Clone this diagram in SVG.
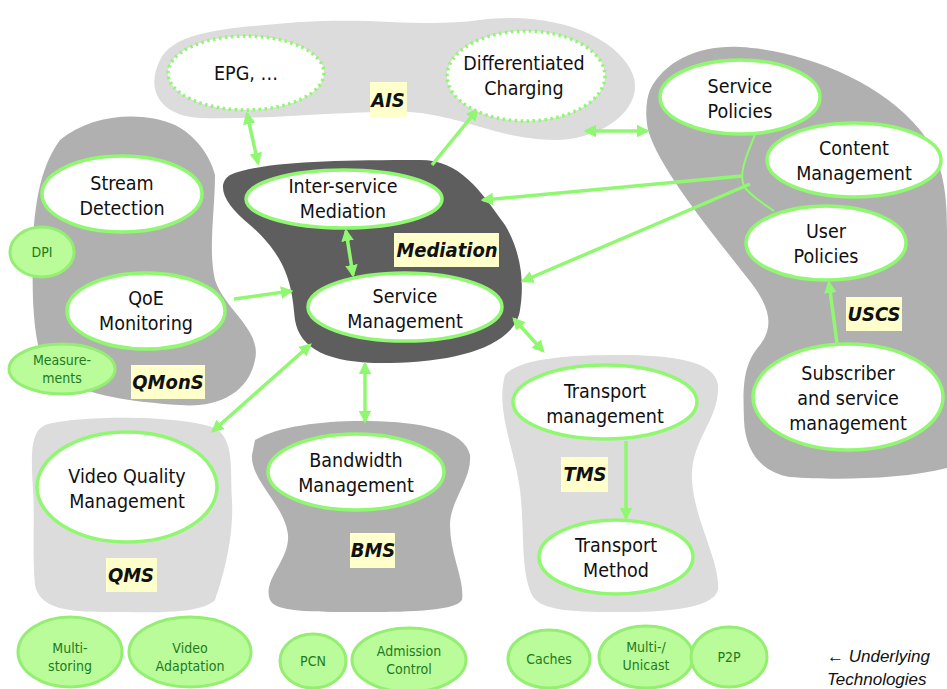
<svg xmlns="http://www.w3.org/2000/svg" width="947" height="689" viewBox="0 0 947 689">
  <style>
    .t { font-family: "DejaVu Sans Condensed", "DejaVu Sans", sans-serif; font-stretch: condensed; font-size: 19.5px; fill: #111; text-anchor: middle; }
    .tech { font-family: "DejaVu Sans Condensed", "DejaVu Sans", sans-serif; font-stretch: condensed; font-size: 14px; fill: #1f7a1f; text-anchor: middle; }
    .lbl { font-family: "DejaVu Sans Condensed", "DejaVu Sans", sans-serif; font-stretch: condensed; font-size: 20px; font-weight: bold; font-style: italic; fill: #111; text-anchor: middle; }
    .box { fill: #ffffcc; }
    .node { fill: #fff; stroke: #90f870; stroke-width: 3.5; }
    .dot { fill: #fff; stroke: #90f870; stroke-width: 3.5; stroke-dasharray: 2.5 3.5; }
    .techn { fill: #b9fc99; stroke: #94ee72; stroke-width: 3; }
    .light { fill: #dcdcdc; }
    .mid { fill: #b0b0b0; }
    .dark { fill: #5e5e5e; }
    .c { fill: none; stroke: #90f870; stroke-width: 3.5; }
    .thin { fill: none; stroke: #90f870; stroke-width: 2; }
    .note { font-family: "Liberation Sans", Arial, sans-serif; font-style: italic; font-size: 17px; fill: #111; }
  </style>
  <defs>
    <marker id="ah" viewBox="0 0 10 10" refX="8" refY="5" markerWidth="3.6" markerHeight="3.6" orient="auto-start-reverse">
      <path d="M0,0 L10,5 L0,10 Z" fill="#90f870"/>
    </marker>
  </defs>

  <rect width="947" height="689" fill="#fff"/>

  <!-- subsystem areas -->
  <g id="areas">
    <path id="area-ais" class="light" d="M160,60 C175,30 230,28 300,22 C380,17 420,28 480,20 C560,10 620,40 633,75 C645,110 600,140 555,140 C500,140 460,115 410,112 C350,110 270,120 200,118 C160,116 145,90 160,60 Z"/>
    <path id="area-uscs" class="mid" d="M650,90 C665,60 700,45 740,47 C800,50 880,80 920,130 C945,160 947,200 947,230 L947,468 C900,480 830,480 790,477 C760,472 745,450 744,420 C743,390 742,365 760,345 C775,325 770,305 745,275 C710,230 660,170 648,130 C645,115 646,100 650,90 Z"/>
    <path id="area-qmons" class="mid" d="M60,140 C90,115 140,110 175,125 C195,135 210,155 215,175 C215,210 208,250 215,280 C225,310 262,330 255,360 C248,395 215,408 180,405 C130,402 90,395 60,380 C40,370 35,340 33,300 C32,250 30,180 60,140 Z"/>
    <path id="area-mediation" class="dark" d="M230,175 C260,162 330,160 420,160 C460,160 480,190 505,225 C520,250 525,280 520,310 C515,345 460,362 390,363 C330,364 300,350 295,320 C292,290 290,260 250,225 C225,205 215,185 230,175 Z"/>
    <path id="area-qms" class="light" d="M45,425 C80,415 180,415 215,428 C235,440 230,470 232,500 C234,540 222,580 215,600 C200,615 150,612 110,612 C70,612 40,610 35,585 C32,550 35,520 33,490 C31,455 30,432 45,425 Z"/>
    <path id="area-bms" class="mid" d="M255,440 C280,425 330,420 370,421 C420,422 465,430 470,455 C472,480 450,500 450,525 C450,555 465,580 462,600 C455,612 400,612 360,612 C310,612 275,612 270,600 C262,580 290,560 288,535 C285,505 250,480 252,455 Z"/>
    <path id="area-tms" class="light" d="M505,375 C520,358 570,355 620,355 C670,355 715,360 718,385 C720,420 690,440 692,480 C694,520 720,560 718,590 C712,610 660,612 620,612 C580,612 540,612 532,595 C520,570 525,530 520,490 C515,450 495,410 505,375 Z"/>
  </g>

  <!-- connectors -->
  <g id="connectors">
    <path class="c" d="M247,114 L258,163" marker-start="url(#ah)" marker-end="url(#ah)"/>
    <path class="c" d="M432,165 L477,110" marker-end="url(#ah)"/>
    <path class="c" d="M346,231 L353,275" marker-start="url(#ah)" marker-end="url(#ah)"/>
    <path class="c" d="M234,299 L291,291" marker-end="url(#ah)"/>
    <path class="c" d="M310,345 L213,431" marker-start="url(#ah)" marker-end="url(#ah)"/>
    <path class="c" d="M365,364 L365,421" marker-start="url(#ah)" marker-end="url(#ah)"/>
    <path class="c" d="M514,319 L543,351" marker-start="url(#ah)" marker-end="url(#ah)"/>
    <path class="c" d="M586,131 L647,131" marker-start="url(#ah)" marker-end="url(#ah)"/>
    <path class="thin" d="M757,130 C745,158 737,178 746,189 C754,198 764,204 774,211"/>
    <path class="c" d="M742,176 L483,200" marker-end="url(#ah)"/>
    <path class="c" d="M750,184 L523,281" marker-end="url(#ah)"/>
    <path class="c" d="M626,441 L626,518" marker-end="url(#ah)"/>
    <path class="c" d="M837,343 L829,283" marker-end="url(#ah)"/>
  </g>

  <!-- AIS -->
  <g id="n-epg">
    <ellipse class="dot" cx="246" cy="73" rx="78" ry="37"/>
    <text class="t" x="246" y="80">EPG, …</text>
  </g>
  <g id="n-charging">
    <ellipse class="dot" cx="526" cy="76" rx="79" ry="45"/>
    <text class="t" x="524" y="70">Differentiated</text>
    <text class="t" x="524" y="95">Charging</text>
  </g>
  <g id="lbl-ais">
    <rect class="box" x="370" y="82" width="37" height="35"/>
    <text class="lbl" x="388" y="107">AIS</text>
  </g>

  <!-- Mediation -->
  <g id="n-inter-service">
    <ellipse class="node" cx="344" cy="199" rx="98" ry="29"/>
    <text class="t" x="343" y="193">Inter-service</text>
    <text class="t" x="343" y="218">Mediation</text>
  </g>
  <g id="n-service-mgmt">
    <ellipse class="node" cx="405" cy="307" rx="97" ry="34"/>
    <text class="t" x="405" y="303">Service</text>
    <text class="t" x="405" y="328">Management</text>
  </g>
  <g id="lbl-mediation">
    <rect class="box" x="394" y="233" width="105" height="34"/>
    <text class="lbl" x="447" y="257">Mediation</text>
  </g>

  <!-- QMonS -->
  <g id="n-stream">
    <ellipse class="node" cx="122" cy="194" rx="80" ry="38"/>
    <text class="t" x="122" y="190">Stream</text>
    <text class="t" x="122" y="215">Detection</text>
  </g>
  <g id="n-qoe">
    <ellipse class="node" cx="146" cy="311" rx="79" ry="38"/>
    <text class="t" x="146" y="305">QoE</text>
    <text class="t" x="146" y="330">Monitoring</text>
  </g>
  <g id="t-dpi">
    <ellipse class="techn" cx="42" cy="252" rx="32" ry="25"/>
    <text class="tech" x="42" y="257">DPI</text>
  </g>
  <g id="t-measurements">
    <ellipse class="techn" cx="62" cy="369" rx="53" ry="25"/>
    <text class="tech" x="62" y="365">Measure-</text>
    <text class="tech" x="62" y="383">ments</text>
  </g>
  <g id="lbl-qmons">
    <rect class="box" x="131" y="365" width="74" height="34"/>
    <text class="lbl" x="168" y="389">QMonS</text>
  </g>

  <!-- QMS -->
  <g id="n-vqm">
    <ellipse class="node" cx="127" cy="487" rx="90" ry="55"/>
    <text class="t" x="127" y="483">Video Quality</text>
    <text class="t" x="127" y="508">Management</text>
  </g>
  <g id="lbl-qms">
    <rect class="box" x="106" y="558" width="51" height="34"/>
    <text class="lbl" x="131" y="582">QMS</text>
  </g>

  <!-- BMS -->
  <g id="n-bandwidth">
    <ellipse class="node" cx="356" cy="472" rx="88" ry="38"/>
    <text class="t" x="356" y="467">Bandwidth</text>
    <text class="t" x="356" y="492">Management</text>
  </g>
  <g id="lbl-bms">
    <rect class="box" x="350" y="533" width="45" height="35"/>
    <text class="lbl" x="373" y="557">BMS</text>
  </g>

  <!-- TMS -->
  <g id="n-transport-mgmt">
    <ellipse class="node" cx="605" cy="402" rx="92" ry="37"/>
    <text class="t" x="605" y="398">Transport</text>
    <text class="t" x="605" y="423">management</text>
  </g>
  <g id="n-transport-method">
    <ellipse class="node" cx="616" cy="557" rx="77" ry="37"/>
    <text class="t" x="616" y="552">Transport</text>
    <text class="t" x="616" y="577">Method</text>
  </g>
  <g id="lbl-tms">
    <rect class="box" x="561" y="457" width="47" height="35"/>
    <text class="lbl" x="585" y="481">TMS</text>
  </g>

  <!-- USCS -->
  <g id="n-service-policies">
    <ellipse class="node" cx="740" cy="97" rx="80" ry="37"/>
    <text class="t" x="740" y="93">Service</text>
    <text class="t" x="740" y="118">Policies</text>
  </g>
  <g id="n-content-mgmt">
    <ellipse class="node" cx="854" cy="160" rx="87" ry="37"/>
    <text class="t" x="854" y="155">Content</text>
    <text class="t" x="854" y="180">Management</text>
  </g>
  <g id="n-user-policies">
    <ellipse class="node" cx="826" cy="243" rx="80" ry="37"/>
    <text class="t" x="826" y="238">User</text>
    <text class="t" x="826" y="263">Policies</text>
  </g>
  <g id="n-subscriber">
    <ellipse class="node" cx="848" cy="397" rx="95" ry="53"/>
    <text class="t" x="848" y="380">Subscriber</text>
    <text class="t" x="848" y="405">and service</text>
    <text class="t" x="848" y="430">management</text>
  </g>
  <g id="lbl-uscs">
    <rect class="box" x="846" y="297" width="56" height="34"/>
    <text class="lbl" x="874" y="321">USCS</text>
  </g>

  <!-- underlying technologies -->
  <g id="t-multistoring">
    <ellipse class="techn" cx="70" cy="652" rx="52" ry="35"/>
    <text class="tech" x="70" y="653">Multi-</text>
    <text class="tech" x="70" y="671">storing</text>
  </g>
  <g id="t-video-adaptation">
    <ellipse class="techn" cx="190" cy="652" rx="61" ry="35"/>
    <text class="tech" x="190" y="653">Video</text>
    <text class="tech" x="190" y="671">Adaptation</text>
  </g>
  <g id="t-pcn">
    <ellipse class="techn" cx="313" cy="661" rx="33" ry="27"/>
    <text class="tech" x="313" y="666">PCN</text>
  </g>
  <g id="t-admission">
    <ellipse class="techn" cx="409" cy="660" rx="57" ry="32"/>
    <text class="tech" x="409" y="656">Admission</text>
    <text class="tech" x="409" y="674">Control</text>
  </g>
  <g id="t-caches">
    <ellipse class="techn" cx="549" cy="659" rx="41" ry="29"/>
    <text class="tech" x="549" y="664">Caches</text>
  </g>
  <g id="t-multicast">
    <ellipse class="techn" cx="646" cy="657" rx="47" ry="31"/>
    <text class="tech" x="646" y="652">Multi-/</text>
    <text class="tech" x="646" y="670">Unicast</text>
  </g>
  <g id="t-p2p">
    <ellipse class="techn" cx="729" cy="657" rx="38" ry="30"/>
    <text class="tech" x="729" y="662">P2P</text>
  </g>
  <g id="legend">
    <text class="note" x="827" y="662">← Underlying</text>
    <text class="note" x="827" y="685">Technologies</text>
  </g>
</svg>
